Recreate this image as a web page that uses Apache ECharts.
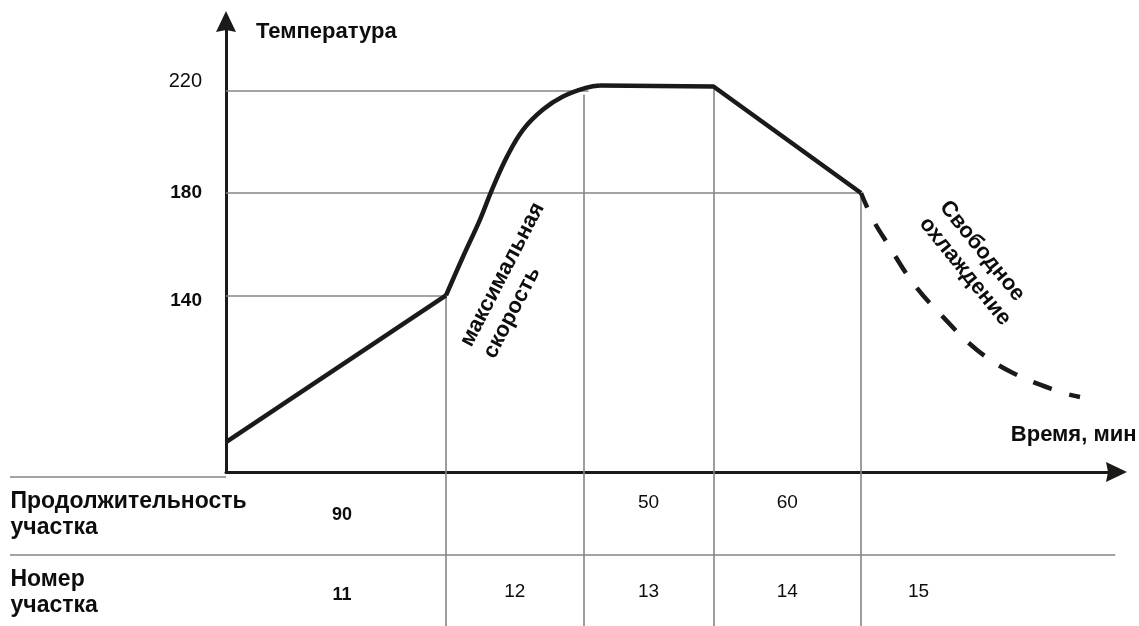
<!DOCTYPE html>
<html>
<head>
<meta charset="utf-8">
<script src="https://cdn.jsdelivr.net/npm/echarts@6/dist/echarts.min.js"></script>
<style>
  html, body { margin: 0; padding: 0; background: #fff; }
  #chart { width: 1139px; height: 626px; }
</style>
</head>
<body>
<div id="chart"></div>
<script>
// section boundaries on the time axis, min
const boundaries = [0, 88, 143, 195, 254, 300];
const sectionNumbers = [11, 12, 13, 14, 15];
const durations = [90, null, 50, 60, null];
const tempTicks = [140, 180, 220];

// temperature profile, [min, °C]
const ramp = [[0, 82.7], [88, 140]];
const maxRate = [[88, 140], [94.8, 155.1], [101.6, 169.6], [106.4, 181.3], [112.4, 194.2],
  [118.8, 204.7], [126.8, 212.6], [134.8, 217.7], [144.4, 221.2], [149.6, 222]];
const hold = [[149.6, 222], [195, 221.6], [254, 180]];
const freeCooling = [[254, 180], [258.8, 169.6], [264.4, 160.6], [274.8, 144.9], [286.8, 131.6],
  [300.4, 118.7], [314.8, 109.7], [333.6, 102.3], [341.6, 100.3]];

const rowTitles = ["Продолжительность\nучастка", "Номер\nучастка"];
const notes = ["максимальная\nскорость", "Свободное\nохлаждение"];
const xTitle = "Время, мин";
const yTitle = "Температура";

// layout (axis units)
const X_MAX = 356.2, Y_MIN = 71, Y_MAX = 247;
const TABLE_LEFT = -86.4, FLOOR = 0, ROW_RULE = 38.5, AXIS_FOOT = 69;
const ROW1 = 54.2, ROW2 = 23.7;

const FONT = "'Liberation Sans', Arial, sans-serif";
const INK = "#1c1a19";
const TEXT = "#0d0d0d";
const GRID = "#858585";
const ARROW = "path://M10,0L20,21L10,19L0,21Z";

const chart = echarts.init(document.getElementById("chart"));

// guide lines: dropped from the profile to the table
const guides = [
	[[0, 220], [boundaries[2] + 2, 220]],
	[[0, 180], [boundaries[4], 180]],
	[[0, 140], [boundaries[1], 140]],
	[[boundaries[1], 140], [boundaries[1], FLOOR]],
	[[boundaries[2], 218.5], [boundaries[2], FLOOR]],
	[[boundaries[3], 221.6], [boundaries[3], FLOOR]],
	[[boundaries[4], 180], [boundaries[4], FLOOR]],
	[[TABLE_LEFT, ROW_RULE], [X_MAX - 0.5, ROW_RULE]],
	[[TABLE_LEFT, AXIS_FOOT], [0, AXIS_FOOT]]
];

const centers = sectionNumbers.map((n, i) => (boundaries[i] + boundaries[i + 1]) / 2);

const cellText = [];
durations.forEach((d, i) => {
	if (d == null) return;
	const first = i === 0;
	cellText.push({
		value: [centers[i], ROW1],
		name: String(d),
		label: first
			? { fontSize: 18, fontWeight: "bold", offset: [6, 0] }
			: { fontSize: 19, fontWeight: "normal", offset: [0, -12] }
	});
});
sectionNumbers.forEach((n, i) => {
	const first = i === 0;
	cellText.push({
		value: [centers[i], ROW2],
		name: String(n),
		label: first
			? { fontSize: 18, fontWeight: "bold", offset: [6, 2] }
			: { fontSize: 19, fontWeight: "normal", offset: [0, -1] }
	});
});

// invisible anchor for text placed in axis units
const hidden = {
	symbol: "circle",
	symbolSize: 1,
	itemStyle: { color: "rgba(0,0,0,0)", opacity: 1 },
	emphasis: { disabled: true }
};

chart.setOption({
	animation: false,
	textStyle: { fontFamily: FONT, color: TEXT },
	grid: { left: 226, right: 22.5, top: 21.5, bottom: 154 },
	xAxis: {
		type: "value",
		min: 0,
		max: X_MAX,
		axisLine: {
			onZero: false,
			symbol: ["none", ARROW],
			symbolSize: [20, 21],
			lineStyle: { color: INK, width: 3 }
		},
		axisTick: { show: false },
		axisLabel: { show: false },
		splitLine: { show: false }
	},
	yAxis: {
		type: "value",
		min: Y_MIN,
		max: Y_MAX,
		name: yTitle,
		nameLocation: "end",
		nameGap: -10.5,
		nameTextStyle: {
			fontFamily: FONT, fontSize: 22, fontWeight: "bold", color: TEXT,
			align: "left", verticalAlign: "middle", padding: [0, 0, 0, 30]
		},
		axisLine: {
			onZero: false,
			symbol: ["none", ARROW],
			symbolSize: [20, 21],
			lineStyle: { color: INK, width: 3 }
		},
		axisTick: { show: false },
		splitLine: { show: false },
		axisLabel: {
			customValues: tempTicks,
			margin: 24,
			color: TEXT,
			formatter: v => (v === 220 ? "{top|" : v === 140 ? "{low|" : "{mid|") + v + "}",
			rich: {
				top: { fontFamily: FONT, fontSize: 20, fontWeight: "normal", padding: [0, 0, 18, 0] },
				mid: { fontFamily: FONT, fontSize: 19, fontWeight: "bold" },
				low: { fontFamily: FONT, fontSize: 19, fontWeight: "bold", padding: [10, 0, 0, 0] }
			}
		}
	},
	series: [
		{
			type: "lines",
			coordinateSystem: "cartesian2d",
			clip: false,
			silent: true,
			z: 1,
			lineStyle: { color: GRID, width: 1.6, opacity: 1 },
			data: guides.map(c => ({ coords: c }))
		},
		{
			type: "line", data: ramp, showSymbol: false, silent: true, z: 3,
			lineStyle: { color: INK, width: 4.5 }
		},
		{
			type: "line", data: maxRate, smooth: 0.4, showSymbol: false, silent: true, z: 3,
			lineStyle: { color: INK, width: 4.5 }
		},
		{
			type: "line", data: hold, showSymbol: false, silent: true, z: 3,
			lineStyle: { color: INK, width: 4.5, join: "round" }
		},
		{
			type: "line", data: freeCooling, smooth: 0.4, showSymbol: false, silent: true, z: 3,
			lineStyle: { color: INK, width: 4.5, type: [20, 18], dashOffset: 4 }
		},
		{
			// x axis title, above the arrow
			type: "scatter", clip: false, silent: true, ...hidden,
			data: [{ value: [X_MAX, Y_MIN], name: xTitle }],
			label: {
				show: true, position: [0, 0], align: "right", verticalAlign: "middle",
				offset: [20.5, -37],
				formatter: p => p.name,
				fontFamily: FONT, fontSize: 22, fontWeight: "bold", color: TEXT
			}
		},
		{
			// table: row titles
			type: "scatter", clip: false, silent: true, ...hidden,
			data: [
				{ value: [TABLE_LEFT, ROW1], name: rowTitles[0] },
				{ value: [TABLE_LEFT, ROW2], name: rowTitles[1] }
			],
			label: {
				show: true, position: "right", distance: 0,
				formatter: p => p.name,
				fontFamily: FONT, fontSize: 23, fontWeight: "bold", lineHeight: 26, color: TEXT
			}
		},
		{
			// table: cells
			type: "scatter", clip: false, silent: true, ...hidden,
			data: cellText,
			label: {
				show: true, position: "inside",
				formatter: p => p.name,
				fontFamily: FONT, color: TEXT
			}
		},
		{
			// notes along the curve
			type: "scatter", clip: false, silent: true, ...hidden,
			data: [
				{ value: [100.8, 118.1], name: notes[0], label: { rotate: 62.6 } },
				{ value: [283.2, 172.5], name: notes[1], label: { rotate: -51 } }
			],
			label: {
				show: true, position: [0, 0], align: "left", verticalAlign: "middle",
				formatter: p => p.name,
				fontFamily: FONT, fontSize: 22, fontWeight: "bold", lineHeight: 26, color: TEXT
			}
		}
	]
});
</script>
</body>
</html>
